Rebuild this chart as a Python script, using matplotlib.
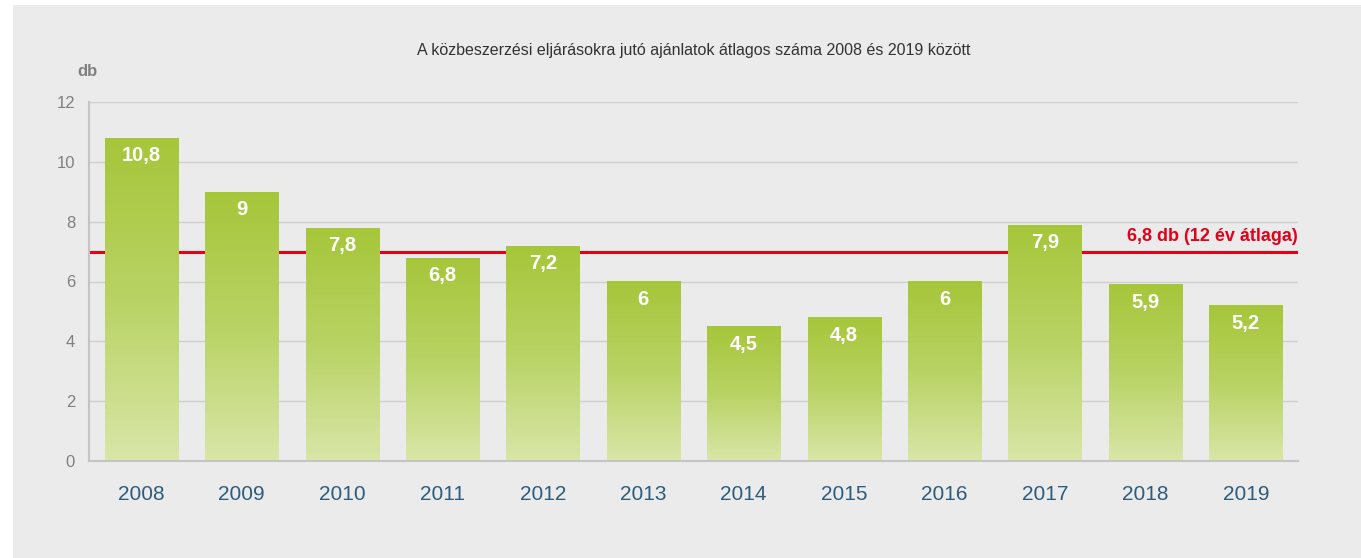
import numpy as np
import matplotlib
matplotlib.use("Agg")
import matplotlib.pyplot as plt
from matplotlib.patches import Rectangle
from matplotlib.colors import LinearSegmentedColormap

years = ["2008", "2009", "2010", "2011", "2012", "2013",
         "2014", "2015", "2016", "2017", "2018", "2019"]
values = [10.8, 9, 7.8, 6.8, 7.2, 6, 4.5, 4.8, 6, 7.9, 5.9, 5.2]
value_labels = ["10,8", "9", "7,8", "6,8", "7,2", "6", "4,5", "4,8", "6", "7,9", "5,9", "5,2"]
avg_line = 7
avg_label = "6,8 db (12 év átlaga)"
title = "A közbeszerzési eljárásokra jutó ajánlatok átlagos száma 2008 és 2019 között"

plt.rcParams['font.family'] = ['Liberation Sans', 'DejaVu Sans']

BG = "#ebebeb"
fig = plt.figure(figsize=(13.61, 5.58), dpi=100, facecolor="white")
# gray panel behind everything
fig.patches.append(Rectangle((13 / 1361, 0), 1, 1 - 5 / 558, transform=fig.transFigure,
                             facecolor=BG, edgecolor="none", zorder=-10))

ax = fig.add_axes([89 / 1361, 1 - 461 / 558, (1298 - 89) / 1361, (461 - 102) / 558])
ax.patch.set_visible(False)

x = np.arange(len(years))
width = 0.727
cmap = LinearSegmentedColormap.from_list("g", ["#d9e6a8", "#b9d364", "#a6c63a"])
grad = np.linspace(0, 1, 256).reshape(-1, 1)

bars = ax.bar(x, values, width=width, color="none", edgecolor="none", zorder=2)
for b, v, lab in zip(bars, values, value_labels):
    x0 = b.get_x()
    im = ax.imshow(grad, cmap=cmap, aspect="auto", origin="lower",
                   extent=(x0, x0 + width, 0, v), zorder=2)
    im.set_clip_path(b)
    ax.text(x0 + width / 2, v - 0.6, lab, ha="center", va="center",
            color="white", fontsize=14.5, fontweight="bold", zorder=4)

# average line sits behind the bars
ax.axhline(avg_line, color="#e2001a", lw=2.2, zorder=1.5)
ax.text(11.52, avg_line + 0.22, avg_label, ha="right", va="bottom",
        color="#e2001a", fontsize=13, fontweight="bold", zorder=4)

ax.set_xlim(-0.52, 11.52)
ax.set_ylim(0, 12)
ax.set_yticks(range(0, 13, 2))
ax.yaxis.grid(True, color="#cfcfcf", lw=1)
ax.set_axisbelow(True)
for s in ["top", "right"]:
    ax.spines[s].set_visible(False)
for s in ["left", "bottom"]:
    ax.spines[s].set_color("#c4c4c4")
    ax.spines[s].set_linewidth(1.5)
ax.tick_params(axis="y", length=0, labelsize=12, labelcolor="#808080", pad=10)
ax.tick_params(axis="x", length=0, labelsize=15, labelcolor="#2d5c7c", pad=17)
ax.set_xticks(x)
ax.set_xticklabels(years)

fig.text(694 / 1361, 1 - 50 / 558, title, ha="center", va="center",
         fontsize=11.5, color="#333333")
fig.text(88 / 1361, 1 - 72 / 558, "db", ha="center", va="center",
         fontsize=12, fontweight="bold", color="#808080")

fig.savefig("out.png", dpi=100, facecolor="white")
